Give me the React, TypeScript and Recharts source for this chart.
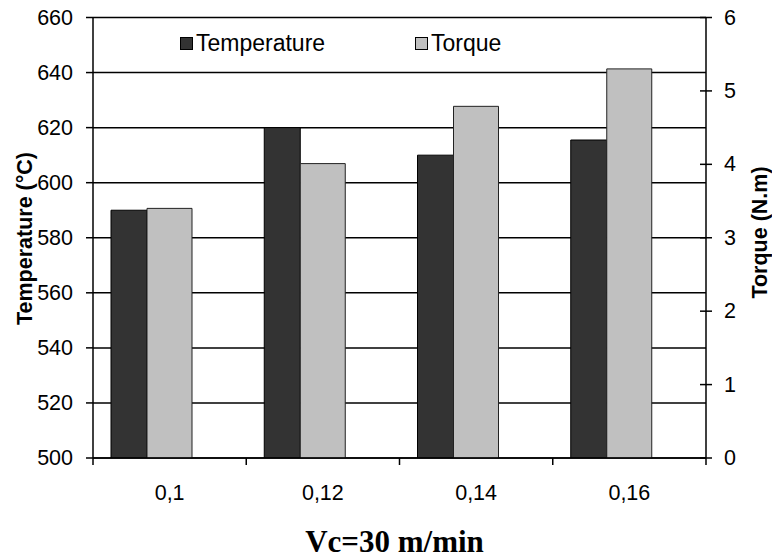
import React from 'react';
import { ComposedChart, Bar, XAxis, YAxis, CartesianGrid, Legend } from 'recharts';

const categories = ['0,1', '0,12', '0,14', '0,16'];
const temperature = [590, 620, 610, 615.5];
const torque = [3.4, 4.01, 4.79, 5.3];
const tempTicks = [500, 520, 540, 560, 580, 600, 620, 640, 660];
const torqueTicks = [0, 1, 2, 3, 4, 5, 6];
const seriesNames = ['Temperature', 'Torque'];
const xTitle = 'Vc=30 m/min';
const leftTitle = 'Temperature (°C)';
const rightTitle = 'Torque (N.m)';

const data = categories.map((c, i) => ({ cat: c, temperature: temperature[i], torque: torque[i] }));

const W = 772;
const H = 559;
const M = { top: 17.5, right: 0, bottom: 0, left: 0 };
const LEFT_W = 93;
const RIGHT_W = 66;
const X_H = 101;
const PLOT_W = W - LEFT_W - RIGHT_W;
const BAND = PLOT_W / categories.length;

const FONT = '"Liberation Sans", Arial, sans-serif';
const DARK = '#333333';
const LIGHT = '#c0c0c0';

const LeftTick = (props: any) => {
  const { x, y, payload } = props;
  return (
    <g>
      <line x1={x - 7} x2={x} y1={y} y2={y} stroke="#000" strokeWidth={1.5} />
      <text x={x - 20} y={y} textAnchor="end" dominantBaseline="central" fontSize={21.5} fontFamily={FONT} fill="#000">
        {payload.value}
      </text>
    </g>
  );
};

const RightTick = (props: any) => {
  const { x, y, payload } = props;
  return (
    <g>
      <line x1={x - 6} x2={x + 6} y1={y} y2={y} stroke="#000" strokeWidth={1.5} />
      <text x={x + 18} y={y} textAnchor="start" dominantBaseline="central" fontSize={21.5} fontFamily={FONT} fill="#000">
        {payload.value}
      </text>
    </g>
  );
};

const XTick = (props: any) => {
  const { x, y, payload } = props;
  const isLast = payload.value === categories[categories.length - 1];
  return (
    <g>
      <line x1={x - BAND / 2} x2={x - BAND / 2} y1={y} y2={y + 7} stroke="#000" strokeWidth={1.5} />
      {isLast && <line x1={x + BAND / 2} x2={x + BAND / 2} y1={y} y2={y + 7} stroke="#000" strokeWidth={1.5} />}
      <text x={x} y={y + 42} textAnchor="middle" fontSize={21.5} fontFamily={FONT} fill="#000">
        {payload.value}
      </text>
    </g>
  );
};

const XTitle = (props: any) => {
  const vb = props.viewBox || {};
  const cx = (vb.x || 0) + (vb.width || 0) / 2 - 5;
  return (
    <text x={cx} y={552} textAnchor="middle" fontSize={31} fontWeight="bold" fontFamily='"Liberation Serif", "Times New Roman", serif' fill="#000">
      {xTitle}
    </text>
  );
};

const LeftTitle = () => (
  <text x={32} y={238.5} transform="rotate(-90, 32, 238.5)" textAnchor="middle" fontSize={21.5} fontWeight="bold" fontFamily={FONT} fill="#000">
    {leftTitle}
  </text>
);

const RightTitle = () => (
  <text x={766.5} y={232.5} transform="rotate(-90, 766.5, 232.5)" textAnchor="middle" fontSize={21.5} fontWeight="bold" fontFamily={FONT} fill="#000">
    {rightTitle}
  </text>
);

const LegendContent = () => {
  const colors = [DARK, LIGHT];
  const lefts = [180, 415];
  return (
    <div style={{ position: 'relative', width: W, height: 30 }}>
      {seriesNames.map((n, i) => (
        <div key={n} style={{ position: 'absolute', left: lefts[i], top: 0, display: 'flex', alignItems: 'center', height: 26 }}>
          <div style={{ width: 11, height: 11, background: colors[i], border: '1px solid #000', marginRight: 3 }} />
          <span style={{ fontFamily: FONT, fontSize: 23, color: '#000', lineHeight: '26px' }}>{n}</span>
        </div>
      ))}
    </div>
  );
};

export default function App() {
  return (
    <div style={{ position: 'absolute', left: 0, top: 0, width: W, height: H, background: '#fff' }}>
      <ComposedChart width={W} height={H} data={data} margin={M} barGap={0}>
        <CartesianGrid yAxisId="left" horizontal vertical={false} stroke="#000" strokeWidth={1.5} />
        <XAxis
          dataKey="cat"
          height={X_H}
          tickLine={false}
          tickSize={0}
          tickMargin={0}
          axisLine={{ stroke: '#000', strokeWidth: 1.5 }}
          tick={<XTick />}
          interval={0}
          label={<XTitle />}
        />
        <YAxis
          yAxisId="left"
          orientation="left"
          width={LEFT_W}
          domain={[500, 660]}
          ticks={tempTicks}
          allowDataOverflow
          tickLine={false}
          tickSize={0}
          tickMargin={0}
          axisLine={{ stroke: '#000', strokeWidth: 1.5 }}
          tick={<LeftTick />}
          interval={0}
          label={<LeftTitle />}
        />
        <YAxis
          yAxisId="right"
          orientation="right"
          width={RIGHT_W}
          domain={[0, 6]}
          ticks={torqueTicks}
          allowDataOverflow
          tickLine={false}
          tickSize={0}
          tickMargin={0}
          axisLine={{ stroke: '#000', strokeWidth: 1.5 }}
          tick={<RightTick />}
          interval={0}
          label={<RightTitle />}
        />
        <Legend
          layout="horizontal"
          verticalAlign="middle"
          align="center"
          content={<LegendContent />}
          wrapperStyle={{ top: 30, left: 0, width: W, height: 30 }}
        />
        <Bar yAxisId="left" dataKey="temperature" name={seriesNames[0]} barSize={36} fill={DARK} stroke="#000" strokeWidth={1} isAnimationActive={false} />
        <Bar yAxisId="right" dataKey="torque" name={seriesNames[1]} barSize={45} fill={LIGHT} stroke="#222" strokeWidth={1} isAnimationActive={false} />
        <Bar yAxisId="left" dataKey="spacer" barSize={36} legendType="none" fill="none" isAnimationActive={false} />
      </ComposedChart>
    </div>
  );
}
